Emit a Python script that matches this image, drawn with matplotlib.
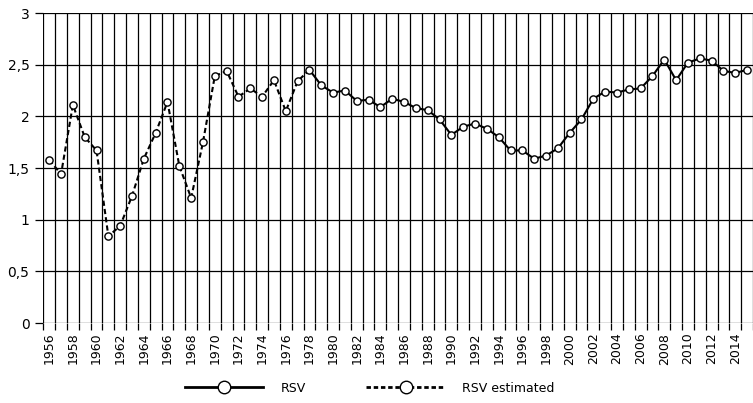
import matplotlib
matplotlib.use("Agg")
import matplotlib.pyplot as plt
from matplotlib.lines import Line2D
from matplotlib.ticker import FuncFormatter

# RSV values, 1956-2015
years = list(range(1956, 2016))
rsv = [1.58, 1.44, 2.11, 1.80, 1.67, 0.84, 0.94, 1.23, 1.59, 1.84,
       2.14, 1.52, 1.21, 1.75, 2.39, 2.44, 2.19, 2.27, 2.19, 2.35,
       2.05, 2.34, 2.45, 2.30, 2.23, 2.25, 2.15, 2.16, 2.09, 2.17,
       2.14, 2.08, 2.06, 1.97, 1.82, 1.90, 1.93, 1.88, 1.80, 1.67,
       1.67, 1.59, 1.62, 1.69, 1.84, 1.97, 2.17, 2.24, 2.23, 2.26,
       2.27, 2.39, 2.55, 2.35, 2.52, 2.56, 2.54, 2.44, 2.42, 2.45]
last_estimated = 1978  # estimated up to and including this year

i = years.index(last_estimated)
est_years, est_vals = years[:i + 1], rsv[:i + 1]
obs_years, obs_vals = years[i:], rsv[i:]

fig = plt.figure(figsize=(7.53, 4.03), dpi=100)
ax = fig.add_axes([0.0575, 0.1985, 0.9425, 0.7692])

ax.plot(est_years, est_vals, color="black", lw=1.5, ls=(0, (2.5, 1.5)), zorder=3)
ax.plot(obs_years, obs_vals, color="black", lw=1.5, zorder=3)
ax.plot(years, rsv, ls="none", marker="o", ms=5.2, mfc="white", mec="black",
        mew=1.0, zorder=4, clip_on=False)

ax.set_xlim(1955.5, 2015.0)
ax.set_ylim(0, 3)

# year boundaries as minor ticks with grid, labels on even years
ax.set_xticks([y - 0.5 for y in years] + [2015.5], minor=True)
ax.set_xticks([y for y in years if y % 2 == 0])
ax.set_xticklabels([str(y) for y in years if y % 2 == 0], rotation=90, fontsize=9)
ax.tick_params(axis="x", which="major", length=0, pad=7)
ax.tick_params(axis="x", which="minor", length=5, width=0.9, direction="out")
ax.grid(True, axis="x", which="minor", color="black", lw=0.9)

ax.set_yticks([0, 0.5, 1, 1.5, 2, 2.5, 3])
ax.yaxis.set_major_formatter(FuncFormatter(lambda v, p: f"{v:g}".replace(".", ",")))
ax.tick_params(axis="y", length=6, width=0.9, labelsize=10, pad=4)
ax.grid(True, axis="y", which="major", color="black", lw=0.9)

for s in ax.spines.values():
    s.set_visible(False)

handles = [
    Line2D([], [], color="black", lw=2, marker="o", ms=9, mfc="white", mec="black",
           mew=1.0, markevery=[1]),
    Line2D([], [], color="black", lw=2, ls=(0, (1.6, 1)), marker="o", ms=9,
           mfc="white", mec="black", mew=1.0, markevery=[1]),
]
for h in handles:
    h.set_data([0, 0.5, 1], [0, 0, 0])
fig.legend(handles, ["RSV", "RSV estimated"], loc="center", ncol=2,
           bbox_to_anchor=(0.491, 0.037), frameon=False, fontsize=9,
           handlelength=6.3, columnspacing=4.8, handletextpad=1.4, numpoints=1)

fig.savefig("out.png", dpi=100)
